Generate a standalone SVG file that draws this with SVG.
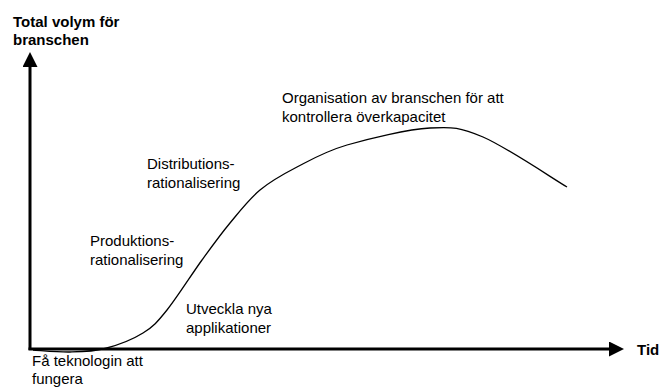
<svg xmlns="http://www.w3.org/2000/svg" width="663" height="392" viewBox="0 0 663 392">
  <style>
    .lbl { font-family: "Liberation Sans", Arial, sans-serif; font-size: 15px; fill: #000; }
    .axis-lbl { font-family: "Liberation Sans", Arial, sans-serif; font-size: 15px; font-weight: bold; fill: #000; }
    .axis { stroke: #000; stroke-width: 3; fill: none; }
    .curve { stroke: #000; stroke-width: 1.3; fill: none; }
  </style>
  <defs>
    <marker id="arrow" viewBox="0 0 10 10" refX="0" refY="5" markerWidth="5" markerHeight="5" orient="auto" markerUnits="strokeWidth">
      <path d="M0,0 L10,5 L0,10 Z" fill="#000"/>
    </marker>
  </defs>
  <rect width="663" height="392" fill="#fff"/>

  <g id="connectors">
    <!-- vertical axis -->
    <path id="y-axis" class="axis" d="M30,350 L30,67" marker-end="url(#arrow)"/>
    <!-- horizontal axis -->
    <path id="x-axis" class="axis" d="M28.5,349 L609,349" marker-end="url(#arrow)"/>
    <!-- industry life-cycle curve -->
    <path id="lifecycle" class="curve" d="M33,350 C39.2,350.3 58,352.25 70,352 C82,351.75 92.8,351.7 105,348.5 C117.2,345.3 132.7,339.4 143,333 C153.3,326.6 157.2,322.2 167,310 C176.8,297.8 191.5,274.5 202,260 C212.5,245.5 220.3,234.7 230,223 C239.7,211.3 248.8,199.3 260,190 C271.2,180.7 282.5,174.5 297,167 C311.5,159.5 324.8,151.5 347,145 C369.2,138.5 407.3,129.3 430,128 C452.7,126.7 460.2,127.2 483,137 C505.8,146.8 553,178.7 567,187"/>
  </g>

  <g id="y-title">
    <text class="axis-lbl" x="13" y="27">Total volym för</text>
    <text class="axis-lbl" x="13" y="45">branschen</text>
  </g>
  <g id="x-title">
    <text class="axis-lbl" x="637" y="355">Tid</text>
  </g>

  <g id="stage-1">
    <text class="lbl" x="32" y="366">Få teknologin att</text>
    <text class="lbl" x="32" y="384">fungera</text>
  </g>
  <g id="stage-2">
    <text class="lbl" x="186" y="314">Utveckla nya</text>
    <text class="lbl" x="186" y="333">applikationer</text>
  </g>
  <g id="stage-3">
    <text class="lbl" x="90" y="246">Produktions-</text>
    <text class="lbl" x="90" y="265">rationalisering</text>
  </g>
  <g id="stage-4">
    <text class="lbl" x="147" y="169">Distributions-</text>
    <text class="lbl" x="147" y="188">rationalisering</text>
  </g>
  <g id="stage-5">
    <text class="lbl" x="282" y="103">Organisation av branschen för att</text>
    <text class="lbl" x="282" y="122">kontrollera överkapacitet</text>
  </g>
</svg>
